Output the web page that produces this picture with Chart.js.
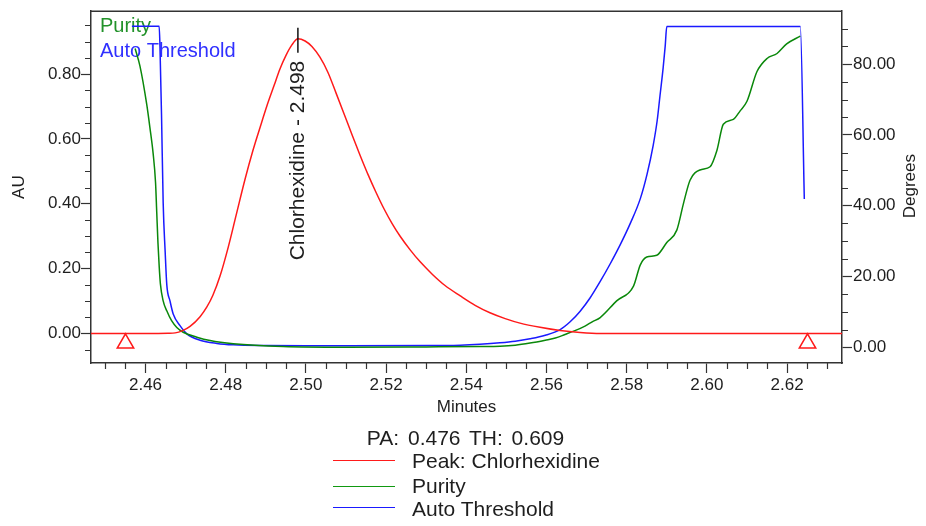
<!DOCTYPE html>
<html>
<head>
<meta charset="utf-8">
<script src="https://cdn.jsdelivr.net/npm/chart.js@4.4.1/dist/chart.umd.min.js"></script>
<style>
html,body{margin:0;padding:0;background:#fff;}
#wrap{position:relative;width:926px;height:526px;background:#fff;}
#wrap canvas{position:absolute;left:0;top:0;}
.t{position:absolute;font-family:"Liberation Sans",Arial,sans-serif;color:#1e1e1e;font-size:21px;line-height:21px;white-space:nowrap;}
.ln{position:absolute;height:0;width:62px;left:333px;border-top-style:solid;border-top-width:1.5px;}
</style>
</head>
<body>
<div id="wrap">
<canvas id="c" width="926" height="526"></canvas>
</div>
<script>
// ---------- data ----------
const peakTimes = [2.4464, 2.4600, 2.4656, 2.4674, 2.4691, 2.4711, 2.4736, 2.4753, 2.4768, 2.4786, 2.4806, 2.4826, 2.4848, 2.4868, 2.4886, 2.4903, 2.4921, 2.4935, 2.4950, 2.4965, 2.4980, 2.4998, 2.5015, 2.5035, 2.5055, 2.5075, 2.5095, 2.5115, 2.5135, 2.5155, 2.5175, 2.5195, 2.5215, 2.5235, 2.5260, 2.5285, 2.5315, 2.5347, 2.5385, 2.5422, 2.5459, 2.5497, 2.5534, 2.5584, 2.5634, 2.5684, 2.5734, 2.6337];
const peakAU = [0, 0, 0.0008, 0.002, 0.008, 0.022, 0.052, 0.082, 0.118, 0.178, 0.265, 0.365, 0.475, 0.565, 0.637, 0.703, 0.766, 0.815, 0.857, 0.89, 0.909, 0.902, 0.885, 0.852, 0.805, 0.742, 0.678, 0.613, 0.55, 0.49, 0.435, 0.384, 0.339, 0.30, 0.258, 0.221, 0.183, 0.148, 0.116, 0.087, 0.064, 0.046, 0.032, 0.019, 0.009, 0.003, 0, 0];

const purityTimes = [2.4574, 2.4586, 2.4603, 2.4611, 2.4619, 2.4625, 2.4628, 2.4631, 2.4634, 2.4637, 2.4644, 2.4653, 2.4665, 2.4678, 2.4694, 2.4728, 2.4761, 2.4819, 2.4943, 2.5100, 2.5300, 2.5434, 2.5484, 2.5522, 2.5559, 2.5597, 2.5622, 2.5646, 2.5671, 2.5696, 2.5714, 2.5734, 2.5775, 2.5817, 2.5834, 2.5850, 2.5875, 2.5900, 2.5925, 2.5942, 2.5958, 2.5983, 2.6008, 2.6025, 2.6041, 2.6066, 2.6083, 2.6100, 2.6125, 2.6150, 2.6175, 2.6199, 2.6233];
const purityDeg = [84.4, 79.5, 68.6, 62.0, 54.7, 46.5, 38.0, 29.5, 23.0, 18.0, 13.1, 10.3, 7.5, 5.6, 4.25, 2.86, 1.9, 1.0, 0.2, 0.0, 0.1, 0.2, 0.3, 0.6, 1.2, 2.0, 2.6, 3.6, 4.7, 6.0, 7.2, 8.4, 13.1, 17.3, 23.3, 25.5, 26.0, 29.6, 33.1, 40.8, 47.2, 50.1, 51.0, 55.6, 63.0, 64.4, 66.8, 69.5, 77.9, 81.6, 83.0, 85.7, 87.9];

const thresholdTimes = [2.4566, 2.4634, 2.4636, 2.4640, 2.4644, 2.4649, 2.4653, 2.4661, 2.4669, 2.4686, 2.4703, 2.4736, 2.4778, 2.4819, 2.4902, 2.5000, 2.5310, 2.5385, 2.5434, 2.5484, 2.5522, 2.5559, 2.5597, 2.5634, 2.5659, 2.5684, 2.5709, 2.5734, 2.5759, 2.5784, 2.5809, 2.5834, 2.5851, 2.5866, 2.5876, 2.5883, 2.5891, 2.5896, 2.5900, 2.6233, 2.6243];
const thresholdDeg = [90.7, 90.7, 85, 65, 40.8, 26.9, 17.7, 13.1, 9.4, 6.1, 3.8, 2.0, 1.1, 0.7, 0.5, 0.45, 0.48, 0.6, 0.85, 1.25, 1.7, 2.4, 3.4, 5.0, 7.2, 10.2, 14.0, 18.6, 23.6, 29.0, 35.0, 42.0, 49.0, 57.0, 64.0, 71.0, 79.0, 85.0, 90.6, 90.6, 41.9];

const markerTimes = [2.455, 2.6251];
const markerAU = [-0.03, -0.03];

const peakName = 'Chlorhexidine';
const peakRT = 2.498;
const peakLabel = peakName + ' - ' + peakRT.toFixed(3);

const xRange = [2.4464, 2.6337];
const auRange = [-0.0909, 0.9939];
const degRange = [-4.44, 94.95];
const xSteps = [0.005, 0.02];     // minor, major
const auSteps = [0.05, 0.2];
const degSteps = [5, 20];

const axisTitles = ['Minutes', 'AU', 'Degrees'];
const insideLabels = ['Purity', 'Auto Threshold'];
const summaryText = 'PA: 0.476 TH: 0.609';
const legendLabels = ['Peak: Chlorhexidine', 'Purity', 'Auto Threshold'];

// ---------- styles ----------
const FONT = '"Liberation Sans", Arial, sans-serif';
const TXT = '#1e1e1e';
const AX = '#333333';
const RED = '#ff1a1a', GREEN = '#0a880a', BLUE = '#1a1aff';
const legendColors = [RED, '#119911', BLUE];

function isMajor(v, step) { const r = v / step; return Math.abs(r - Math.round(r)) < 1e-6; }
function pts(xs, ys) { return xs.map((x, i) => ({x: x, y: ys[i]})); }

// ---------- plugins ----------
const decorations = {
  id: 'decorations',
  beforeDatasetsDraw(chart) {
    const ctx = chart.ctx, a = chart.chartArea;
    ctx.save();
    ctx.font = '20px ' + FONT;
    ctx.textAlign = 'left';
    ctx.textBaseline = 'alphabetic';
    ctx.fillStyle = '#22922a';
    ctx.fillText(insideLabels[0], a.left + 9, a.top + 20.5);
    ctx.fillStyle = '#3030ff';
    ctx.fillText(insideLabels[1], a.left + 9, a.top + 46);
    ctx.restore();
  },
  afterDraw(chart) {
    const ctx = chart.ctx, a = chart.chartArea;
    const sx = chart.scales.x, sy = chart.scales.y, s2 = chart.scales.y2;
    ctx.save();
    // minor ticks
    ctx.strokeStyle = AX; ctx.lineWidth = 1.2;
    ctx.beginPath();
    sx.ticks.forEach(t => { if (!isMajor(t.value, xSteps[1])) { const p = Math.round(sx.getPixelForValue(t.value)) + 0.5; ctx.moveTo(p, a.bottom); ctx.lineTo(p, a.bottom + 6); } });
    sy.ticks.forEach(t => { if (!isMajor(t.value, auSteps[1])) { const p = Math.round(sy.getPixelForValue(t.value)) + 0.5; ctx.moveTo(a.left, p); ctx.lineTo(a.left - 6, p); } });
    s2.ticks.forEach(t => { if (!isMajor(t.value, degSteps[1])) { const p = Math.round(s2.getPixelForValue(t.value)) + 0.5; ctx.moveTo(a.right, p); ctx.lineTo(a.right + 6, p); } });
    ctx.stroke();
    // top frame
    ctx.lineWidth = 1.5;
    ctx.beginPath(); ctx.moveTo(a.left, a.top); ctx.lineTo(a.right, a.top); ctx.stroke();
    // peak marker tick + label
    const apex = Math.max.apply(null, peakAU);
    const px = sx.getPixelForValue(peakRT), py = sy.getPixelForValue(apex);
    ctx.strokeStyle = '#111'; ctx.lineWidth = 1.5;
    ctx.beginPath(); ctx.moveTo(px, py - 11); ctx.lineTo(px, py + 14); ctx.stroke();
    ctx.fillStyle = TXT;
    ctx.font = '21px ' + FONT;
    ctx.translate(px, py + 22);
    ctx.rotate(-Math.PI / 2);
    ctx.textAlign = 'right'; ctx.textBaseline = 'middle';
    ctx.fillText(peakLabel, 0, 0);
    ctx.restore();
    // right axis title (reads bottom to top)
    ctx.save();
    ctx.fillStyle = TXT;
    ctx.font = '17px ' + FONT;
    ctx.translate(s2.right - 16, (a.top + a.bottom) / 2 - 1);
    ctx.rotate(-Math.PI / 2);
    ctx.textAlign = 'center'; ctx.textBaseline = 'middle';
    ctx.fillText(axisTitles[2], 0, 0);
    ctx.restore();
  }
};

// ---------- chart ----------
const tickFont = {family: FONT, size: 17};
new Chart(document.getElementById('c'), {
  type: 'line',
  data: {
    datasets: [
      {label: 'Peak: Chlorhexidine', data: pts(peakTimes, peakAU), yAxisID: 'y', borderColor: RED, borderWidth: 1.5, pointRadius: 0, cubicInterpolationMode: 'monotone', fill: false},
      {label: 'Integration marks', data: pts(markerTimes, markerAU), yAxisID: 'y', showLine: false, pointStyle: 'triangle', pointRadius: 9.5, pointBorderWidth: 1.5, pointBorderColor: RED, pointBackgroundColor: 'rgba(255,255,255,0)', borderColor: RED},
      {label: 'Purity', data: pts(purityTimes, purityDeg), yAxisID: 'y2', borderColor: GREEN, borderWidth: 1.5, pointRadius: 0, cubicInterpolationMode: 'monotone', fill: false},
      {label: 'Auto Threshold', data: pts(thresholdTimes, thresholdDeg), yAxisID: 'y2', borderColor: BLUE, borderWidth: 1.5, pointRadius: 0, cubicInterpolationMode: 'monotone', fill: false}
    ]
  },
  options: {
    responsive: false,
    animation: false,
    devicePixelRatio: 1,
    layout: {padding: {top: 5, bottom: 106, left: 0, right: 0}},
    plugins: {legend: {display: false}, tooltip: {enabled: false}},
    scales: {
      x: {
        type: 'linear', position: 'bottom', min: xRange[0], max: xRange[1],
        afterFit: s => { s.height = 57; },
        border: {display: true, color: AX, width: 1.5},
        grid: {drawOnChartArea: false, drawTicks: true, tickLength: 10, tickWidth: 1.2,
               tickColor: c => (c.tick && isMajor(c.tick.value, xSteps[1])) ? AX : 'rgba(0,0,0,0)'},
        ticks: {stepSize: xSteps[0], includeBounds: false, autoSkip: false, maxRotation: 0, minRotation: 0, maxTicksLimit: 1000,
                padding: 2, color: TXT, font: tickFont,
                callback: v => isMajor(v, xSteps[1]) ? v.toFixed(2) : ''},
        title: {display: true, text: axisTitles[0], color: TXT, font: {family: FONT, size: 17}, padding: {top: 0, bottom: 2}}
      },
      y: {
        type: 'linear', position: 'left', min: auRange[0], max: auRange[1],
        afterFit: s => { s.width = 91; },
        border: {display: true, color: AX, width: 1.5},
        grid: {drawOnChartArea: false, drawTicks: true, tickLength: 10, tickWidth: 1.2,
               tickColor: c => (c.tick && isMajor(c.tick.value, auSteps[1])) ? AX : 'rgba(0,0,0,0)'},
        ticks: {stepSize: auSteps[0], includeBounds: false, autoSkip: false, maxTicksLimit: 1000,
                padding: 0, color: TXT, font: tickFont,
                callback: v => isMajor(v, auSteps[1]) ? v.toFixed(2) : ''},
        title: {display: true, text: axisTitles[1], color: TXT, font: {family: FONT, size: 17}, padding: {top: 9, bottom: 0}}
      },
      y2: {
        type: 'linear', position: 'right', min: degRange[0], max: degRange[1],
        afterFit: s => { s.width = 84; },
        border: {display: true, color: AX, width: 1.5},
        grid: {drawOnChartArea: false, drawTicks: true, tickLength: 10, tickWidth: 1.2,
               tickColor: c => (c.tick && isMajor(c.tick.value, degSteps[1])) ? AX : 'rgba(0,0,0,0)'},
        ticks: {stepSize: degSteps[0], includeBounds: false, autoSkip: false, maxTicksLimit: 1000,
                padding: 1, color: TXT, font: tickFont,
                callback: v => isMajor(v, degSteps[1]) ? v.toFixed(2) : ''}
      }
    }
  },
  plugins: [decorations]
});

// ---------- bottom legend (HTML text) ----------
const wrap = document.getElementById('wrap');
const pa = document.createElement('div');
pa.className = 't';
pa.style.cssText = 'left:0;width:931px;text-align:center;top:427px;word-spacing:3px;';
pa.textContent = summaryText;
wrap.appendChild(pa);
const rowTop = [450, 475, 498];
const rowLine = [461, 486.5, 508];
legendLabels.forEach((lab, i) => {
  const ln = document.createElement('div');
  ln.className = 'ln';
  ln.style.top = (rowLine[i] - 0.75) + 'px';
  ln.style.borderTopColor = legendColors[i];
  wrap.appendChild(ln);
  const tx = document.createElement('div');
  tx.className = 't';
  tx.style.left = '412px';
  tx.style.top = rowTop[i] + 'px';
  tx.textContent = lab;
  wrap.appendChild(tx);
});
</script>
</body>
</html>
